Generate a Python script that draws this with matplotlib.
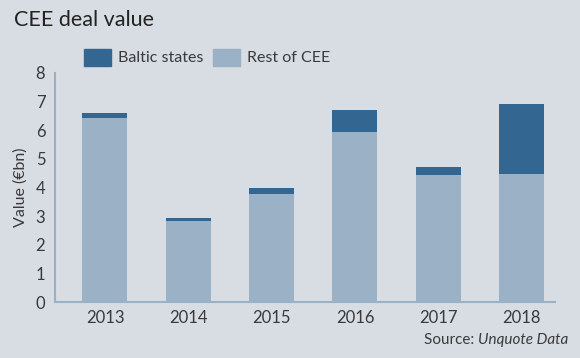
import matplotlib
matplotlib.use('Agg')
import matplotlib.pyplot as plt
from matplotlib.patches import Rectangle
import numpy as np

years = ['2013', '2014', '2015', '2016', '2017', '2018']
rest_of_cee = [6.43, 2.83, 3.78, 5.92, 4.45, 4.47]
baltic = [0.18, 0.11, 0.2, 0.8, 0.27, 2.45]
yticks = [0, 1, 2, 3, 4, 5, 6, 7, 8]

bg = '#d8dce3'
dark = '#336690'
light = '#9bb1c5'
txt = '#3a3a3a'

plt.rcParams['font.family'] = ['Lato', 'DejaVu Sans']

fig = plt.figure(figsize=(5.8, 3.58), dpi=100, facecolor=bg)
ax = fig.add_axes([0.0948, 0.1564, 0.862, 0.64])
ax.set_facecolor(bg)

x = np.arange(len(years))
ax.bar(x, rest_of_cee, width=0.54, color=light, label='Rest of CEE')
ax.bar(x, baltic, width=0.54, bottom=rest_of_cee, color=dark, label='Baltic states')

ax.set_xlim(-0.6, 5.4)
ax.set_ylim(0, 8)
ax.set_yticks(yticks)
ax.set_xticks(x)
ax.set_xticklabels(years)
ax.tick_params(axis='both', length=0, labelsize=12, colors=txt)
ax.tick_params(axis='y', pad=7)
ax.tick_params(axis='x', pad=6)
for s in ['top', 'right']:
    ax.spines[s].set_visible(False)
for s in ['left', 'bottom']:
    ax.spines[s].set_color(light)
    ax.spines[s].set_linewidth(1.5)
ax.set_ylabel('Value (€bn)', fontsize=11.5, color=txt, labelpad=6)

fig.text(0.024, 0.945, 'CEE deal value', fontsize=15.5, color='#222222', va='center', ha='left')

# legend
fig.patches.append(Rectangle((84 / 580, 1 - 66 / 358), 27 / 580, 17 / 358,
                             transform=fig.transFigure, color=dark))
fig.text(118 / 580, 1 - 57.5 / 358, 'Baltic states', fontsize=11.5, color=txt, va='center')
fig.patches.append(Rectangle((213 / 580, 1 - 66 / 358), 27 / 580, 17 / 358,
                             transform=fig.transFigure, color=light))
fig.text(247 / 580, 1 - 57.5 / 358, 'Rest of CEE', fontsize=11.5, color=txt, va='center')

fig.text(568 / 580, 1 - 340 / 358, 'Source: ', fontsize=11, color=txt, va='center', ha='right')
t = fig.text(568 / 580, 1 - 340 / 358, 'Unquote Data', fontsize=11, color=txt,
             va='center', ha='right', style='italic')
fig.canvas.draw()
bb = t.get_window_extent()
fig.texts[-2].set_x(bb.x0 / fig.bbox.width)

fig.savefig('out.png', dpi=100, facecolor=bg)
